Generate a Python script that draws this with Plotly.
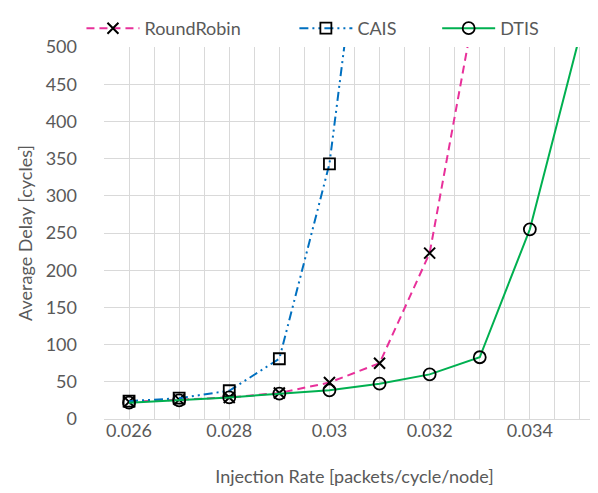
import plotly.graph_objects as go

injection_rate = [0.026, 0.027, 0.028, 0.029, 0.030, 0.031, 0.032, 0.033, 0.034, 0.035]
round_robin = [23, 26, 29, 35, 49, 75, 223, 590]
cais = [24, 28, 38, 81, 343, 875]
dtis = [22, 25, 29, 34, 38.5, 47.5, 60, 83, 255, 516]

x_tick_vals = [0.026, 0.028, 0.030, 0.032, 0.034]
x_tick_text = ["0.026", "0.028", "0.03", "0.032", "0.034"]

FONT = "Lato"
GRAY = "#595959"
GRID = "#D9D9D9"

fig = go.Figure()
fig.add_trace(go.Scatter(
    x=injection_rate[:len(round_robin)], y=round_robin, name="RoundRobin",
    mode="lines+markers", legend="legend",
    line=dict(color="#E8309A", width=2, dash="8px,5px"),
    marker=dict(symbol="x-thin-open", size=11, color="black",
                line=dict(color="black", width=2)),
))
fig.add_trace(go.Scatter(
    x=injection_rate[:len(cais)], y=cais, name="CAIS",
    mode="lines+markers", legend="legend2",
    line=dict(color="#0070C0", width=2, dash="9px,4px,2px,4px,2px,4px"),
    marker=dict(symbol="square-open", size=11, color="black",
                line=dict(color="black", width=1.8)),
))
fig.add_trace(go.Scatter(
    x=injection_rate[:len(dtis)], y=dtis, name="DTIS",
    mode="lines+markers", legend="legend3",
    line=dict(color="#00B050", width=2),
    marker=dict(symbol="circle-open", size=12, color="black",
                line=dict(color="black", width=1.8)),
))

legend_common = dict(orientation="h", xanchor="left", y=1.0, yanchor="bottom",
                     font=dict(family=FONT, size=18, color=GRAY),
                     bgcolor="rgba(0,0,0,0)", itemwidth=53)

fig.update_layout(
    width=598, height=493,
    margin=dict(l=96, r=1, t=39, b=82),
    paper_bgcolor="white", plot_bgcolor="white",
    font=dict(family=FONT, size=18, color=GRAY),
    showlegend=True,
    legend=dict(x=-0.045, **legend_common),
    legend2=dict(x=0.38, **legend_common),
    legend3=dict(x=0.665, **legend_common),
    xaxis=dict(
        range=[0.0255, 0.0355],
        tickmode="array", tickvals=x_tick_vals, ticktext=x_tick_text,
        showgrid=True, gridcolor=GRID, gridwidth=1,
        minor=dict(dtick=0.0005, tick0=0.0255, showgrid=True, gridcolor=GRID, gridwidth=1),
        showline=True, linecolor=GRID, linewidth=1,
        zeroline=False, ticks="",
        ticklabelstandoff=-5,
        tickfont=dict(family=FONT, size=18, color=GRAY),
        title=dict(text="Injection Rate [packets/cycle/node]",
                   font=dict(family=FONT, size=18, color=GRAY), standoff=30),
    ),
    yaxis=dict(
        range=[0, 500], dtick=50, tick0=0,
        showgrid=True, gridcolor=GRID, gridwidth=1,
        showline=False, zeroline=False, ticks="",
        ticklabelstandoff=26,
        tickfont=dict(family=FONT, size=18, color=GRAY),
        title=dict(text="Average Delay [cycles]",
                   font=dict(family=FONT, size=18, color=GRAY), standoff=8),
    ),
)

fig.write_html("out.html")
